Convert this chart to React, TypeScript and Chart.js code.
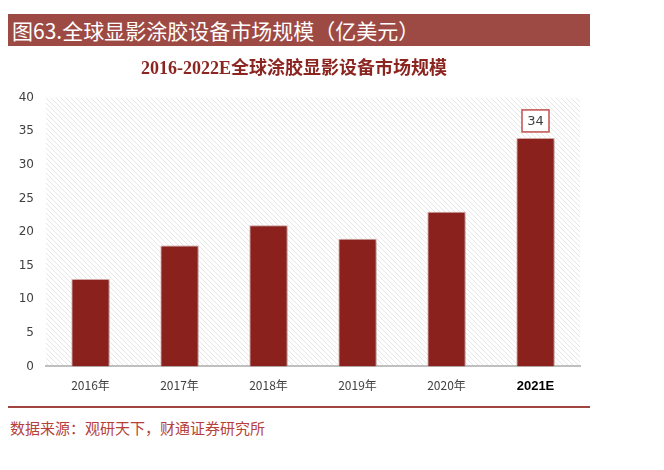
import React, { useEffect, useRef } from "react";
import { Chart, registerables } from "chart.js";
Chart.register(...registerables);

const categories = ["2016年", "2017年", "2018年", "2019年", "2020年", "2021E"];
const values = [13, 18, 21, 19, 23, 34];
const yTicks = [0, 5, 10, 15, 20, 25, 30, 35, 40];
const annotatedIndex = 5;

const pageTitle = "图63.全球显影涂胶设备市场规模（亿美元）";
const chartTitle = "2016-2022E全球涂胶显影设备市场规模";
const sourceText = "数据来源：观研天下，财通证券研究所";

function makePattern(): CanvasPattern | string {
  const c = document.createElement("canvas");
  c.width = 5;
  c.height = 5;
  const g = c.getContext("2d");
  if (!g) return "#f2f2f2";
  g.fillStyle = "#ffffff";
  g.fillRect(0, 0, 5, 5);
  g.strokeStyle = "#e6e6e6";
  g.lineWidth = 1;
  g.beginPath();
  g.moveTo(-1, -1);
  g.lineTo(6, 6);
  g.moveTo(-1, 4);
  g.lineTo(1, 6);
  g.moveTo(4, -1);
  g.lineTo(6, 1);
  g.stroke();
  const p = g.createPattern(c, "repeat");
  return p || "#f2f2f2";
}

const bgPlugin = {
  id: "hatchBg",
  beforeDraw(chart: any) {
    const { ctx, chartArea } = chart;
    if (!chartArea) return;
    ctx.save();
    ctx.fillStyle = makePattern();
    ctx.fillRect(chartArea.left, chartArea.top, chartArea.right - chartArea.left, chartArea.bottom - chartArea.top);
    ctx.restore();
  },
  beforeDatasetsDraw(chart: any) {
    const ctx = chart.ctx;
    ctx.save();
    ctx.shadowColor = "rgba(0,0,0,0.25)";
    ctx.shadowBlur = 4;
    ctx.shadowOffsetX = 2;
    ctx.shadowOffsetY = 1;
  },
  afterDatasetsDraw(chart: any) {
    chart.ctx.restore();
  },
};

const labelPlugin = {
  id: "boxLabel",
  afterDraw(chart: any) {
    const { ctx } = chart;
    const meta = chart.getDatasetMeta(0);
    const bar = meta.data[annotatedIndex];
    if (!bar) return;
    const txt = String(values[annotatedIndex]);
    const w = 27;
    const h = 22;
    const x = bar.x - w / 2;
    const y = bar.y - 6 - h;
    ctx.save();
    ctx.fillStyle = "#ffffff";
    ctx.fillRect(x, y, w, h);
    ctx.strokeStyle = "#c0504d";
    ctx.lineWidth = 1.5;
    ctx.strokeRect(x, y, w, h);
    ctx.fillStyle = "#404040";
    ctx.font = "13px 'DejaVu Sans', sans-serif";
    ctx.textAlign = "center";
    ctx.textBaseline = "middle";
    ctx.fillText(txt, bar.x, y + h / 2 + 1);
    ctx.restore();
  },
};

export default function App() {
  const ref = useRef<HTMLCanvasElement | null>(null);
  useEffect(() => {
    if (!ref.current) return;
    const chart = new Chart(ref.current, {
      type: "bar",
      data: {
        labels: categories,
        datasets: [
          {
            data: values,
            backgroundColor: "#8b211d",
            borderColor: "#e0b0ad",
            borderWidth: 1,
            categoryPercentage: 1,
            barPercentage: 0.43,
          },
        ],
      },
      options: {
        animation: false,
        responsive: false,
        devicePixelRatio: 1,
        layout: { padding: { left: 0, right: 10, top: 0, bottom: 0 } },
        plugins: {
          legend: { display: false },
          tooltip: { enabled: false },
          title: {
            display: true,
            text: chartTitle,
            color: "#8b2520",
            font: { family: "'Liberation Serif', 'Noto Sans CJK SC', serif", size: 18, weight: "bold" },
            padding: { top: 9, bottom: 17 },
          },
        },
        scales: {
          x: {
            grid: { display: false, drawTicks: false },
            border: { display: true, color: "#bfbfbf", width: 2 },
            ticks: {
              padding: 12,
              color: (c: any) => (c.index === annotatedIndex ? "#000000" : "#404040"),
              font: (c: any) =>
                c.index === annotatedIndex
                  ? { family: "'Liberation Sans', Arial, sans-serif", size: 13, weight: "bold" }
                  : { family: "'Noto Sans CJK SC', sans-serif", size: 12 },
            },
          },
          y: {
            min: 0,
            max: 40,
            afterBuildTicks: (axis: any) => {
              axis.ticks = yTicks.map((v) => ({ value: v }));
            },
            afterFit: (axis: any) => {
              axis.width = 38;
            },
            grid: { display: false, drawTicks: false },
            border: { display: false },
            ticks: {
              padding: 12,
              color: "#404040",
              font: { family: "'DejaVu Sans', sans-serif", size: 12 },
            },
          },
        },
      },
      plugins: [bgPlugin, labelPlugin],
    });
    return () => chart.destroy();
  }, []);

  return (
    <div style={{ position: "relative", width: 648, height: 454 }}>
      <div
        style={{
          position: "absolute",
          left: 0,
          top: 6,
          width: 582,
          height: 32,
          background: "#9e4a44",
          color: "#ffffff",
          fontFamily: "'Noto Sans CJK SC', serif",
          fontSize: 21,
          lineHeight: "32px",
          paddingLeft: 4,
          boxSizing: "border-box",
          whiteSpace: "nowrap",
        }}
      >
        {pageTitle}
      </div>
      <canvas
        ref={ref}
        width={582}
        height={356}
        style={{ position: "absolute", left: 0, top: 42, width: 582, height: 356 }}
      />
      <div
        style={{
          position: "absolute",
          left: 0,
          top: 398,
          width: 582,
          height: 2,
          background: "#a0453f",
        }}
      />
      <div
        style={{
          position: "absolute",
          left: 2,
          top: 409,
          color: "#b5413a",
          fontFamily: "'Noto Sans CJK SC', serif",
          fontSize: 15,
          whiteSpace: "nowrap",
        }}
      >
        {sourceText}
      </div>
    </div>
  );
}
